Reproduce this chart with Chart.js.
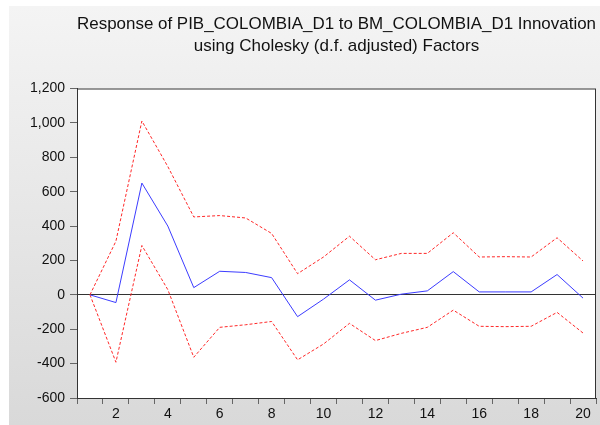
<!DOCTYPE html>
<html>
<head>
<meta charset="utf-8">
<script src="https://cdn.jsdelivr.net/npm/chart.js@4"></script>
<style>
  html, body { margin: 0; padding: 0; background: #fff; }
  #wrap { position: relative; width: 600px; height: 425px; }
  #panel {
    position: absolute; left: 9px; top: 6px; right: 0; bottom: 0;
    background: linear-gradient(#f4f4f4, #d9d9d9);
  }
  #irf { position: absolute; left: 0; top: 0; }
</style>
</head>
<body>
<div id="wrap">
  <div id="panel"></div>
  <canvas id="irf" width="600" height="425"></canvas>
</div>
<script>
// Impulse response, periods 1..20
var periods = ["1", "2", "3", "4", "5", "6", "7", "8", "9", "10",
  "11", "12", "13", "14", "15", "16", "17", "18", "19", "20"];
var response = [0, -45, 650, 400, 42, 137, 130, 100, -127, -25,
  87, -31, 4, 23, 135, 17, 17, 17, 118, -19];
// +/- 2 S.E. bands
var upperBand = [0, 312, 1011, 746, 453, 461, 447, 357, 123, 220,
  341, 204, 241, 241, 361, 220, 222, 220, 332, 197];
var lowerBand = [0, -392, 287, 30, -363, -189, -174, -155, -378, -286,
  -166, -266, -224, -189, -89, -183, -185, -183, -102, -222];

var titleLines = [
  "Response of PIB_COLOMBIA_D1 to BM_COLOMBIA_D1 Innovation",
  "using Cholesky (d.f. adjusted) Factors"
];

// white plot area with a dark frame
var plotFrame = {
  id: "plotFrame",
  beforeDraw: function (chart) {
    var a = chart.chartArea, ctx = chart.ctx;
    ctx.save();
    ctx.fillStyle = "#ffffff";
    ctx.fillRect(a.left, a.top, a.right - a.left, a.bottom - a.top);
    ctx.restore();
  },
  afterDraw: function (chart) {
    var a = chart.chartArea, ctx = chart.ctx;
    ctx.save();
    ctx.strokeStyle = "#333333";
    ctx.lineWidth = 1;
    ctx.strokeRect(a.left + 0.5, a.top + 0.5, a.right - a.left - 1, a.bottom - a.top);
    ctx.restore();
  }
};

Chart.defaults.font.family = "'Liberation Sans', Arial, sans-serif";
Chart.defaults.color = "#111111";

var ctx = document.getElementById("irf");
var irfChart = new Chart(ctx, {
  type: "line",
  data: {
    labels: periods,
    datasets: [{
      data: upperBand,
      borderColor: "rgba(255, 40, 40, 1)",
      borderWidth: 1,
      borderDash: [3, 2],
      pointRadius: 0,
      tension: 0
    }, {
      data: response,
      borderColor: "rgba(60, 60, 255, 1)",
      borderWidth: 1,
      pointRadius: 0,
      tension: 0
    }, {
      data: lowerBand,
      borderColor: "rgba(255, 40, 40, 1)",
      borderWidth: 1,
      borderDash: [3, 2],
      pointRadius: 0,
      tension: 0
    }]
  },
  options: {
    responsive: false,
    animation: false,
    layout: { padding: { left: 0, right: 4, top: 0, bottom: 0 } },
    plugins: {
      legend: { display: false },
      tooltip: { enabled: false },
      title: {
        display: true,
        fullSize: false,
        text: titleLines,
        color: "#111111",
        font: { size: 17, weight: "normal", lineHeight: 1.25 },
        padding: { top: 14, bottom: 32 }
      }
    },
    scales: {
      x: {
        offset: true,
        grid: {
          offset: true,
          drawOnChartArea: false,
          tickLength: 6,
          tickColor: "#666666"
        },
        border: { color: "#333333" },
        ticks: {
          autoSkip: false,
          maxRotation: 0,
          padding: 2,
          font: { size: 14 },
          callback: function (value, index) {
            return (index + 1) % 2 === 0 ? periods[index] : "";
          }
        },
        afterFit: function (scale) { scale.height = 27; }
      },
      y: {
        min: -600,
        max: 1200,
        grid: {
          color: function (c) { return c.tick && c.tick.value === 0 ? "#333333" : "rgba(0,0,0,0)"; },
          tickLength: 7,
          tickColor: "#666666"
        },
        border: { color: "#333333" },
        ticks: {
          stepSize: 200,
          padding: 5,
          font: { size: 14 },
          callback: function (value) { return value.toLocaleString("en-US"); }
        },
        afterFit: function (scale) { scale.width = 77; }
      }
    }
  },
  plugins: [plotFrame]
});
</script>
</body>
</html>
